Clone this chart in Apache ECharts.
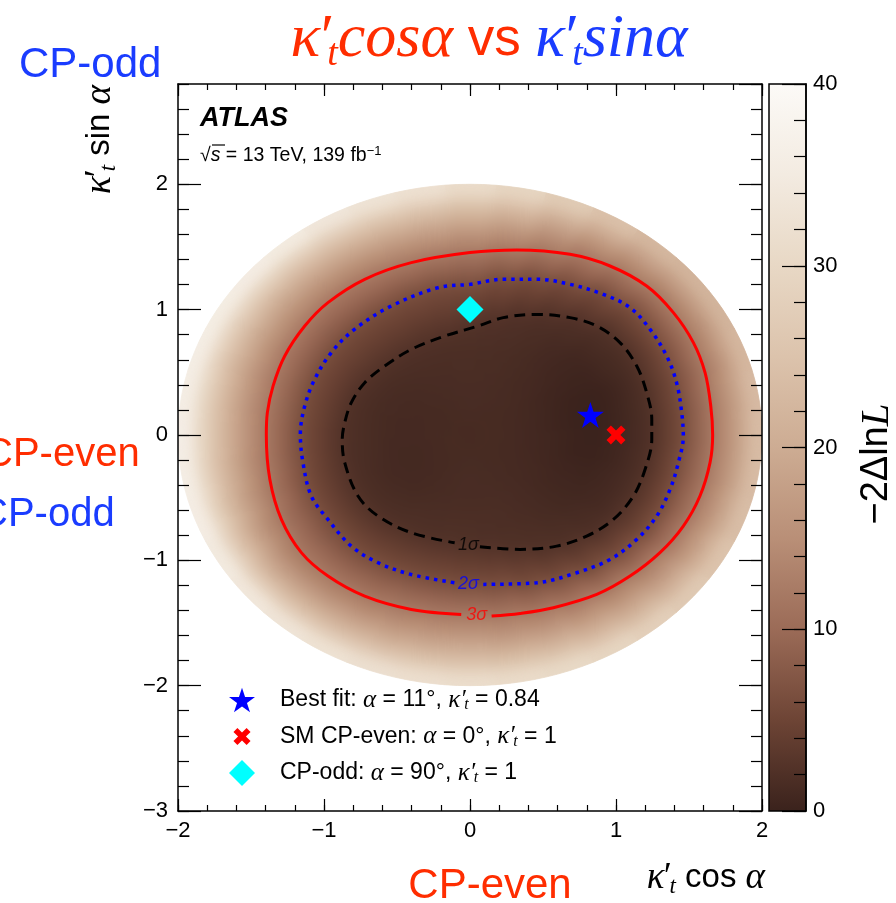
<!DOCTYPE html>
<html>
<head>
<meta charset="utf-8">
<title>kappa't cos(alpha) vs kappa't sin(alpha)</title>
<script src="https://cdn.jsdelivr.net/npm/echarts@6/dist/echarts.min.js"></script>
<style>
  html, body { margin: 0; padding: 0; background: #ffffff; }
  #wrap { position: relative; width: 896px; height: 903px; }
  #wrap > div { position: absolute; left: 0; top: 0; width: 896px; height: 903px; }
  #heatSoft { filter: blur(7px); }
</style>
</head>
<body>
<div id="wrap">
  <div id="heatBase"></div>
  <div id="heatSoft"></div>
  <div id="chart"></div>
</div>
<script>
const SANS = "'Liberation Sans', Arial, Helvetica, sans-serif";
const SERIF = "'Liberation Serif', 'Times New Roman', serif";
const RED = '#ff2d00';
const BLUE = '#1a3cff';

// Likelihood scan binned in (alpha, kappa'_t): ray centres in degrees (10 deg wide)
const alphaDeg = [0, 10, 20, 30, 40, 50, 60, 70, 80, 90, 100, 110, 120, 130, 140, 150, 160, 170,
  180, 190, 200, 210, 220, 230, 240, 250, 260, 270, 280, 290, 300, 310, 320, 330, 340, 350];
// kappa'_t ring centres (0.1 wide)
const kappaMid = [0.05, 0.15, 0.25, 0.35, 0.45, 0.55, 0.65, 0.75, 0.85, 0.95,
  1.05, 1.15, 1.25, 1.35, 1.45, 1.55, 1.65, 1.75, 1.85, 1.95];
// -2 Delta ln L : one row per alpha ray, one value per kappa ring
const nll = [
  [1.4,1.4,1.3,1.1,0.9,0.7,0.4,0.2,0.1,0.3,0.8,1.5,2.4,4.2,6.0,8.7,11.5,14.6,18.6,23.3],
  [1.4,1.4,1.3,1.1,0.9,0.6,0.3,0.1,0.0,0.2,0.7,1.4,2.3,4.1,5.9,8.5,11.3,14.4,18.2,22.9],
  [1.4,1.4,1.3,1.2,1.0,0.7,0.4,0.2,0.1,0.2,0.6,1.3,2.2,3.9,5.7,8.1,10.8,13.6,17.4,22.2],
  [1.4,1.4,1.3,1.2,1.0,0.8,0.6,0.5,0.4,0.5,1.0,1.4,2.2,3.7,5.5,7.8,10.5,13.3,17.0,21.8],
  [1.4,1.4,1.4,1.3,1.2,1.1,0.9,0.8,0.7,0.8,1.2,1.7,2.3,3.9,5.5,7.7,10.5,13.3,17.0,21.7],
  [1.4,1.4,1.4,1.4,1.3,1.2,1.2,1.1,1.1,1.3,1.7,2.1,3.3,4.7,6.2,8.7,11.2,14.1,17.8,22.4],
  [1.4,1.4,1.4,1.4,1.4,1.4,1.4,1.4,1.6,1.7,2.1,2.9,4.3,5.7,7.7,10.1,12.5,15.6,19.5,24.3],
  [1.4,1.4,1.5,1.5,1.5,1.6,1.6,1.7,1.9,2.1,2.7,4.0,5.3,6.8,9.2,11.6,14.2,17.6,21.8,26.8],
  [1.4,1.4,1.5,1.5,1.6,1.6,1.7,1.9,2.1,2.5,3.7,4.9,6.1,8.3,10.7,13.1,16.1,19.8,24.2,29.2],
  [1.4,1.5,1.5,1.5,1.6,1.7,1.8,2.0,2.3,3.3,4.5,5.6,7.3,9.5,11.7,14.2,17.4,21.2,25.6,30.7],
  [1.4,1.4,1.5,1.5,1.6,1.7,1.8,2.0,2.7,3.7,4.7,5.7,7.4,9.7,12.0,14.7,18.0,22.1,26.7,32.1],
  [1.4,1.4,1.4,1.5,1.5,1.6,1.8,2.1,2.8,3.8,4.9,5.9,7.7,10.0,12.2,14.9,18.3,22.5,27.3,32.9],
  [1.4,1.4,1.4,1.4,1.5,1.6,1.8,2.1,2.9,4.0,5.0,6.1,8.0,10.1,12.1,14.7,18.2,22.5,27.7,33.7],
  [1.4,1.4,1.3,1.4,1.4,1.5,1.7,2.1,2.9,4.0,5.0,6.1,8.1,10.1,12.1,14.8,18.4,22.9,28.4,34.9],
  [1.4,1.4,1.3,1.3,1.3,1.4,1.6,2.0,2.8,3.9,5.0,6.1,8.1,10.2,12.3,15.0,18.6,23.3,28.8,35.4],
  [1.4,1.3,1.3,1.2,1.2,1.3,1.5,1.9,2.5,3.7,4.9,6.1,8.2,10.3,12.5,15.3,19.1,23.7,29.1,35.5],
  [1.4,1.3,1.3,1.2,1.2,1.3,1.4,1.8,2.3,3.6,4.9,6.1,8.3,10.5,12.8,15.7,19.5,24.0,29.4,35.6],
  [1.4,1.3,1.3,1.1,1.1,1.2,1.4,1.8,2.2,3.5,4.8,6.1,8.4,10.7,13.1,16.1,19.9,24.5,29.7,35.7],
  [1.4,1.4,1.3,1.2,1.1,1.2,1.4,1.8,2.2,3.3,4.7,6.0,8.3,10.7,13.3,16.4,20.2,24.7,29.9,35.8],
  [1.4,1.4,1.3,1.1,1.1,1.1,1.4,1.7,2.1,3.2,4.6,6.0,8.1,10.5,12.8,15.8,19.6,24.2,29.5,35.6],
  [1.4,1.4,1.2,1.1,1.0,1.1,1.3,1.6,2.1,3.1,4.4,5.8,7.7,10.0,12.2,15.1,18.8,23.4,29.0,35.4],
  [1.4,1.4,1.3,1.1,1.0,1.1,1.2,1.6,2.0,2.9,4.3,5.7,7.5,9.5,11.5,14.0,17.5,22.2,27.9,34.7],
  [1.4,1.4,1.3,1.2,1.1,1.1,1.3,1.6,2.0,2.9,4.2,5.6,7.2,9.2,11.1,13.2,16.6,21.1,26.9,34.0],
  [1.4,1.4,1.3,1.2,1.2,1.2,1.4,1.7,2.1,3.0,4.3,5.5,7.1,9.1,11.1,13.3,16.6,21.0,26.5,33.2],
  [1.4,1.4,1.3,1.3,1.3,1.4,1.6,1.9,2.2,3.2,4.4,5.6,7.3,9.3,11.3,13.6,16.9,21.1,26.3,32.5],
  [1.4,1.4,1.4,1.4,1.4,1.5,1.7,1.9,2.2,3.3,4.5,5.8,7.6,9.7,11.7,14.2,17.4,21.4,26.3,31.9],
  [1.4,1.4,1.4,1.5,1.5,1.6,1.8,2.0,2.3,3.3,4.6,5.8,7.6,9.8,12.0,14.6,17.8,21.8,26.4,31.6],
  [1.4,1.4,1.4,1.5,1.5,1.6,1.8,2.0,2.2,3.2,4.4,5.7,7.5,9.8,12.1,14.7,18.0,21.8,26.2,31.3],
  [1.4,1.4,1.4,1.5,1.5,1.6,1.8,1.9,2.1,2.8,4.1,5.4,7.1,9.4,11.6,14.2,17.3,21.2,25.6,30.7],
  [1.4,1.4,1.4,1.4,1.5,1.6,1.7,1.8,2.0,2.2,3.4,4.7,6.1,8.5,11.0,13.6,16.8,20.7,25.2,30.2],
  [1.4,1.4,1.4,1.4,1.4,1.5,1.5,1.6,1.8,2.0,2.4,3.9,5.4,7.5,10.0,12.6,15.7,19.5,24.0,29.2],
  [1.4,1.4,1.4,1.3,1.3,1.3,1.3,1.3,1.4,1.7,2.0,2.9,4.5,6.0,8.8,11.6,14.7,18.4,22.8,27.8],
  [1.4,1.4,1.3,1.3,1.2,1.1,1.0,1.0,1.0,1.3,1.6,2.1,3.7,5.4,7.7,10.6,13.7,17.3,21.6,26.4],
  [1.4,1.4,1.3,1.2,1.1,1.0,0.8,0.7,0.7,0.9,1.2,1.9,3.1,4.8,6.8,9.8,12.7,16.1,20.2,24.9],
  [1.4,1.4,1.3,1.2,1.0,0.8,0.6,0.5,0.4,0.7,1.1,1.7,2.8,4.6,6.6,9.3,12.0,15.2,19.1,23.8],
  [1.4,1.4,1.3,1.1,0.9,0.7,0.4,0.2,0.2,0.4,0.9,1.6,2.5,4.4,6.4,9.0,11.7,14.7,18.6,23.3]
];

// Confidence contours in (kappa'cos a, kappa'sin a), each opened where its label sits
const contour1s = [[0.068,-0.892],[0.342,-0.913],[0.593,-0.887],[0.799,-0.807],[0.982,-0.674],[1.119,-0.487],
  [1.199,-0.275],[1.245,-0.035],[1.245,0.125],[1.210,0.338],[1.142,0.550],[1.027,0.737],[0.868,0.869],
  [0.685,0.936],[0.457,0.962],[0.228,0.936],[0.055,0.869],[-0.173,0.789],[-0.402,0.683],[-0.584,0.550],
  [-0.721,0.417],[-0.813,0.258],[-0.858,0.098],[-0.875,-0.035],[-0.858,-0.221],[-0.767,-0.487],
  [-0.630,-0.647],[-0.402,-0.780],[-0.105,-0.860]];
const contour2s = [[0.091,-1.192],[0.457,-1.179],[0.731,-1.099],[0.959,-0.993],[1.142,-0.833],[1.279,-0.647],
  [1.370,-0.434],[1.427,-0.221],[1.461,-0.009],[1.450,0.178],[1.415,0.417],[1.347,0.630],[1.233,0.843],
  [1.096,1.016],[0.913,1.122],[0.685,1.202],[0.457,1.242],[0.228,1.242],[0.000,1.202],[-0.219,1.175],
  [-0.539,1.029],[-0.791,0.843],[-0.950,0.657],[-1.064,0.444],[-1.132,0.231],[-1.162,0.005],
  [-1.144,-0.221],[-1.087,-0.487],[-0.973,-0.674],[-0.813,-0.887],[-0.630,-1.019],[-0.402,-1.113],
  [-0.105,-1.179]];
const contour3s = [[0.148,-1.445],[0.342,-1.424],[0.571,-1.378],[0.868,-1.272],[1.096,-1.126],[1.301,-0.939],
  [1.461,-0.727],[1.575,-0.487],[1.644,-0.221],[1.662,0.000],[1.649,0.231],[1.610,0.497],[1.530,0.737],
  [1.393,0.976],[1.210,1.188],[0.959,1.348],[0.685,1.441],[0.320,1.476],[0.000,1.455],[-0.402,1.375],
  [-0.721,1.242],[-0.973,1.056],[-1.132,0.869],[-1.269,0.630],[-1.349,0.390],[-1.388,0.178],
  [-1.395,0.000],[-1.371,-0.354],[-1.292,-0.674],[-1.155,-0.939],[-0.973,-1.126],[-0.721,-1.286],
  [-0.402,-1.392],[-0.060,-1.432]];
const contourLabels = [
  { name: '1\u03c3', pos: [-0.01, -0.875], color: '#000000' },
  { name: '2\u03c3', pos: [-0.01, -1.188], color: '#0000ff' },
  { name: '3\u03c3', pos: [0.045, -1.438], color: '#ff0000' }
];

// Reference hypotheses (alpha in degrees)
const bestFit = { alpha: 11, kappa: 0.84 };
const smEven = { alpha: 0, kappa: 1 };
const cpOdd = { alpha: 90, kappa: 1 };

// Axis ticks
const xTicks = [-2, -1, 0, 1, 2];
const yTicks = [-3, -2, -1, 0, 1, 2];
const yTop = 2.8;
const zTicks = [0, 10, 20, 30, 40];

// Colour palette for -2 Delta ln L, evenly spaced from 0 to 40
const palette = ['#3a221c', '#6d4435', '#9b6b57', '#b98f77', '#cdac93', '#dcc3ac', '#e8d8c5', '#f3ebe1', '#fcfaf7'];

// ---------------------------------------------------------------------------
const toRad = d => d * Math.PI / 180;
const polar = (k, aDeg) => [k * Math.cos(toRad(aDeg)), k * Math.sin(toRad(aDeg))];
const fmtTick = v => (v < 0 ? '\u2212' + Math.abs(v) : String(v));

const alphaStep = alphaDeg[1] - alphaDeg[0];
const kappaStep = kappaMid[1] - kappaMid[0];
const kappaEdge = kappaMid[kappaMid.length - 1] + kappaStep / 2;
const cells = [];
alphaDeg.forEach((a, i) => {
  kappaMid.forEach((k, j) => {
    const p = polar(k, a);
    cells.push([p[0], p[1], nll[i][j], a, k]);
  });
});

function renderCell(params, api) {
  const a = api.value(3);
  const k = api.value(4);
  const kIn = Math.max(k - kappaStep / 2, 0);
  const kOut = k + kappaStep / 2;
  const n = 4;
  const pts = [];
  for (let s = 0; s <= n; s++) pts.push(api.coord(polar(kOut, a - alphaStep / 2 + alphaStep * s / n)));
  for (let s = n; s >= 0; s--) pts.push(api.coord(polar(kIn, a - alphaStep / 2 + alphaStep * s / n)));
  const c = api.visual('color');
  return { type: 'polygon', shape: { points: pts }, style: { fill: c, stroke: c, lineWidth: 0.8 } };
}

const STAR = 'path://M0,-100 L22.45,-30.9 L95.1,-30.9 L36.3,11.8 L58.8,80.9 L0,38.2 L-58.8,80.9 L-36.3,11.8 L-95.1,-30.9 L-22.45,-30.9 Z';
const CROSS_SHAPE = 'M-49.5,91.9 L0,42.4 L49.5,91.9 L91.9,49.5 L42.4,0 L91.9,-49.5 L49.5,-91.9 L0,-42.4 L-49.5,-91.9 L-91.9,-49.5 L-42.4,0 L-91.9,49.5 Z';
const CROSS = 'path://' + CROSS_SHAPE;
const CROSS_LEGEND = 'path://M-140,-140 M140,140 ' + CROSS_SHAPE;

// ---------------------------------------------------------------------------
const xMin = xTicks[0], xMax = xTicks[xTicks.length - 1], xInt = xTicks[1] - xTicks[0];
const yMin = yTicks[0], yInt = yTicks[1] - yTicks[0];
const zMin = zTicks[0], zMax = zTicks[zTicks.length - 1], zInt = zTicks[1] - zTicks[0];

const plotGrid = { left: 178, top: 84, width: 584, height: 727, outerBoundsMode: 'none', containLabel: false };
const barGrid = { left: 769, top: 84, width: 37, height: 727, outerBoundsMode: 'none', containLabel: false };

const visualMap = {
  type: 'continuous', show: false, min: zMin, max: zMax, dimension: 2, seriesIndex: 0,
  inRange: { color: palette }
};
const heatSeries = {
  type: 'custom', name: 'scan', xAxisIndex: 0, yAxisIndex: 0,
  dimensions: ['x', 'y', 'nll', 'alpha', 'kappa'], encode: { x: 0, y: 1 },
  data: cells, renderItem: renderCell, clip: true, silent: true, z: 1, animation: false
};
// the scan surface alone (drawn twice: crisp underneath, softened on top)
const heatOption = {
  animation: false,
  grid: [plotGrid],
  xAxis: { type: 'value', min: xMin, max: xMax, show: false },
  yAxis: { type: 'value', min: yMin, max: yTop, show: false },
  visualMap: visualMap,
  series: [heatSeries]
};

const axisLineStyle = { color: '#000', width: 1.5 };
const tickStyle = { color: '#000', width: 1.2 };
function frameAxis(extra, lineShown) {
  return Object.assign({
    type: 'value', z: 10, silent: true,
    splitLine: { show: false },
    axisLine: { show: lineShown, onZero: false, lineStyle: axisLineStyle },
    axisLabel: { show: false }
  }, extra);
}
const tickLabel = (extra) => Object.assign({ show: true, color: '#000', fontSize: 22, fontFamily: SANS }, extra);

const xAxes = [
  frameAxis({ gridIndex: 0, min: xMin, max: xMax, interval: xInt, position: 'bottom',
    axisTick: { show: true, inside: true, length: 12, lineStyle: tickStyle },
    axisLabel: tickLabel({ margin: 9, formatter: fmtTick }) }, true),
  frameAxis({ gridIndex: 0, min: xMin, max: xMax, interval: xInt / 5, position: 'bottom',
    axisTick: { show: true, inside: true, length: 6, lineStyle: tickStyle } }, false),
  frameAxis({ gridIndex: 0, min: xMin, max: xMax, interval: xInt, position: 'top',
    axisTick: { show: true, inside: true, length: 12, lineStyle: tickStyle } }, true),
  frameAxis({ gridIndex: 0, min: xMin, max: xMax, interval: xInt / 5, position: 'top',
    axisTick: { show: true, inside: true, length: 6, lineStyle: tickStyle } }, false),
  { type: 'value', gridIndex: 1, min: 0, max: 1, show: false }
];
const yAxes = [
  frameAxis({ gridIndex: 0, min: yMin, max: yTop, interval: yInt, position: 'left',
    axisTick: { show: true, inside: true, length: 23, lineStyle: tickStyle },
    axisLabel: tickLabel({ margin: 10, showMaxLabel: false,
      formatter: v => (Math.abs(v - Math.round(v)) < 1e-6 ? fmtTick(Math.round(v)) : '') }) }, true),
  frameAxis({ gridIndex: 0, min: yMin, max: yTop, interval: yInt / 5, position: 'left',
    axisTick: { show: true, inside: true, length: 11, lineStyle: tickStyle } }, false),
  frameAxis({ gridIndex: 0, min: yMin, max: yTop, interval: yInt, position: 'right',
    axisTick: { show: true, inside: true, length: 23, lineStyle: tickStyle } }, true),
  frameAxis({ gridIndex: 0, min: yMin, max: yTop, interval: yInt / 5, position: 'right',
    axisTick: { show: true, inside: true, length: 11, lineStyle: tickStyle } }, false),
  frameAxis({ gridIndex: 1, min: zMin, max: zMax, interval: zInt, position: 'right',
    axisTick: { show: true, inside: true, length: 24, lineStyle: tickStyle },
    axisLabel: tickLabel({ margin: 7 }) }, true),
  frameAxis({ gridIndex: 1, min: zMin, max: zMax, interval: zInt / 5, position: 'right',
    axisTick: { show: true, inside: true, length: 12, lineStyle: tickStyle } }, false)
];

const contourSeries = (data, color, type, width) => ({
  type: 'line', data: data, xAxisIndex: 0, yAxisIndex: 0, symbol: 'none', smooth: 0.35,
  clip: false, silent: true, z: 4, animation: false,
  lineStyle: { color: color, width: width, type: type, cap: 'butt' }
});
const markerSeries = (name, point, symbol, size, color) => ({
  type: 'scatter', name: name, data: [polar(point.kappa, point.alpha)], xAxisIndex: 0, yAxisIndex: 0,
  symbol: symbol, symbolSize: size, itemStyle: { color: color, opacity: 1 }, z: 6, silent: true, animation: false
});

const kappaRich = '{i|\u03ba}{p|\u2032}{s|t}';
const legendText = {
  'Best fit': '{g| }Best fit: {i|\u03b1} = ' + bestFit.alpha + '\u00b0, ' + kappaRich + ' = ' + bestFit.kappa,
  'SM CP-even': '{g| }SM CP-even: {i|\u03b1} = ' + smEven.alpha + '\u00b0, ' + kappaRich + ' = ' + smEven.kappa,
  'CP-odd': '{g| }CP-odd: {i|\u03b1} = ' + cpOdd.alpha + '\u00b0, ' + kappaRich + ' = ' + cpOdd.kappa
};

function txt(x, y, text, style, extra) {
  return Object.assign({
    type: 'text', x: x, y: y, z: 30, silent: true,
    style: Object.assign({ text: text, fill: '#000', fontFamily: SANS, fontSize: 20,
      align: 'left', verticalAlign: 'middle', textAlign: 'left', textVerticalAlign: 'middle' }, style)
  }, extra || {});
}
const titleRich = {
  r: { fontFamily: SERIF, fontStyle: 'italic', fontSize: 62, fill: RED, lineHeight: 68 },
  rp: { fontFamily: SERIF, fontStyle: 'italic', fontSize: 62, fill: RED, lineHeight: 68, width: 7 },
  rs: { fontFamily: SERIF, fontStyle: 'italic', fontSize: 38, fill: RED, lineHeight: 4, verticalAlign: 'bottom' },
  n: { fontFamily: SANS, fontSize: 53, fill: RED, lineHeight: 68 },
  b: { fontFamily: SERIF, fontStyle: 'italic', fontSize: 62, fill: BLUE, lineHeight: 68 },
  bp: { fontFamily: SERIF, fontStyle: 'italic', fontSize: 62, fill: BLUE, lineHeight: 68, width: 7 },
  bs: { fontFamily: SERIF, fontStyle: 'italic', fontSize: 38, fill: BLUE, lineHeight: 4, verticalAlign: 'bottom' }
};
const axisTitleRich = {
  i: { fontFamily: SERIF, fontStyle: 'italic', fontSize: 37, lineHeight: 40 },
  p: { fontFamily: SERIF, fontStyle: 'italic', fontSize: 37, lineHeight: 40, width: 5 },
  s: { fontFamily: SERIF, fontStyle: 'italic', fontSize: 23, lineHeight: 12, verticalAlign: 'bottom' },
  n: { fontFamily: SANS, fontSize: 33, lineHeight: 40 }
};

const option = {
  animation: false,
  backgroundColor: 'transparent',
  grid: [plotGrid, barGrid],
  xAxis: xAxes,
  yAxis: yAxes,
  legend: {
    show: true, orient: 'vertical', left: 229, top: 687, padding: 0,
    itemWidth: 26, itemHeight: 26, itemGap: 10.5, selectedMode: false,
    data: [
      { name: 'Best fit', icon: STAR },
      { name: 'SM CP-even', icon: CROSS_LEGEND },
      { name: 'CP-odd', icon: 'diamond' }
    ],
    formatter: name => legendText[name],
    textStyle: {
      color: '#000', fontFamily: SANS, fontSize: 23, lineHeight: 26,
      rich: {
        g: { width: 20 },
        i: { fontFamily: SERIF, fontStyle: 'italic', fontSize: 25, lineHeight: 26 },
        p: { fontFamily: SERIF, fontStyle: 'italic', fontSize: 25, lineHeight: 26, width: 4 },
        s: { fontFamily: SERIF, fontStyle: 'italic', fontSize: 16, lineHeight: 8, verticalAlign: 'bottom' }
      }
    }
  },
  series: [
    contourSeries(contour3s, '#ff0000', 'solid', 3),
    contourSeries(contour2s, '#0000ff', [3.5, 5], 3.5),
    contourSeries(contour1s, '#000000', [11, 6.5], 3),
    { type: 'scatter', name: 'contour labels', xAxisIndex: 0, yAxisIndex: 0, symbolSize: 1, z: 5,
      silent: true, animation: false, itemStyle: { color: 'rgba(0,0,0,0)' },
      data: contourLabels.map(c => ({ name: c.name, value: c.pos,
        label: { show: true, position: 'inside', formatter: '{b}', color: c.color,
          fontSize: 18, fontStyle: 'italic', fontFamily: SANS } })) },
    markerSeries('Best fit', bestFit, STAR, [27, 26], '#0000ff'),
    markerSeries('SM CP-even', smEven, CROSS, 19, '#ff0000'),
    markerSeries('CP-odd', cpOdd, 'diamond', 27, '#00ffff')
  ],
  graphic: [
    // colour bar body
    { type: 'rect', z: 2, silent: true,
      shape: { x: 769, y: 84, width: 37, height: 727 },
      style: { fill: new echarts.graphic.LinearGradient(0, 1, 0, 0,
        palette.map((c, i) => ({ offset: i / (palette.length - 1), color: c }))),
        stroke: '#000', lineWidth: 1.5 } },
    // title
    txt(489, 40, '{r|\u03ba}{rp|\u2032}{rs|t}{r|cos\u03b1}{n| vs }{b|\u03ba}{bp|\u2032}{bs|t}{b|sin\u03b1}',
      { rich: titleRich, align: 'center', textAlign: 'center' }),
    // CP labels
    txt(19, 65, 'CP-odd', { fill: BLUE, fontSize: 42 }),
    txt(-16, 455, 'CP-even', { fill: RED, fontSize: 40 }),
    txt(-21, 515, 'CP-odd', { fill: BLUE, fontSize: 40 }),
    txt(490, 886, 'CP-even', { fill: RED, fontSize: 42, align: 'center', textAlign: 'center' }),
    // axis titles
    txt(765, 878, '{i|\u03ba}{p|\u2032}{s|t}{n| cos }{i|\u03b1}',
      { rich: axisTitleRich, align: 'right', textAlign: 'right' }),
    txt(100, 85, '{i|\u03ba}{p|\u2032}{s|t}{n| sin }{i|\u03b1}',
      { rich: axisTitleRich, align: 'right', textAlign: 'right' }, { rotation: Math.PI / 2 }),
    txt(877, 464, '{n|\u22122\u0394ln}{i|L}',
      { rich: { n: { fontFamily: SANS, fontSize: 38, lineHeight: 42 },
                i: { fontFamily: SERIF, fontStyle: 'italic', fontSize: 41, lineHeight: 42 } },
        align: 'center', textAlign: 'center' }, { rotation: Math.PI / 2 }),
    // experiment label
    txt(200, 119, 'ATLAS', { fontSize: 27, fontWeight: 'bold', fontStyle: 'italic' }),
    txt(200, 156, '{r|\u221a}{s|s} = 13 TeV, 139 fb{u|\u22121}',
      { fontSize: 19.5, rich: {
        r: { fontFamily: SANS, fontSize: 19.5, lineHeight: 22 },
        s: { fontFamily: SANS, fontStyle: 'italic', fontSize: 19.5, lineHeight: 22 },
        u: { fontFamily: SANS, fontSize: 13, lineHeight: 12, verticalAlign: 'top' } } }),
    { type: 'line', z: 30, silent: true, shape: { x1: 212, y1: 145, x2: 225, y2: 145 },
      style: { stroke: '#000', lineWidth: 1.2 } }
  ]
};

const heatBase = echarts.init(document.getElementById('heatBase'), null, { renderer: 'canvas' });
heatBase.setOption(heatOption);
const heatSoft = echarts.init(document.getElementById('heatSoft'), null, { renderer: 'canvas' });
heatSoft.setOption(heatOption);
const chart = echarts.init(document.getElementById('chart'), null, { renderer: 'canvas' });
chart.setOption(option);

// keep the softened copy inside the scanned disc (kappa'_t <= kappaEdge)
const c0 = heatSoft.convertToPixel({ gridIndex: 0 }, [0, 0]);
const cx = heatSoft.convertToPixel({ gridIndex: 0 }, [kappaEdge, 0]);
const cy = heatSoft.convertToPixel({ gridIndex: 0 }, [0, kappaEdge]);
document.getElementById('heatSoft').style.clipPath =
  'ellipse(' + (cx[0] - c0[0]) + 'px ' + (c0[1] - cy[1]) + 'px at ' + c0[0] + 'px ' + c0[1] + 'px)';
</script>
</body>
</html>
